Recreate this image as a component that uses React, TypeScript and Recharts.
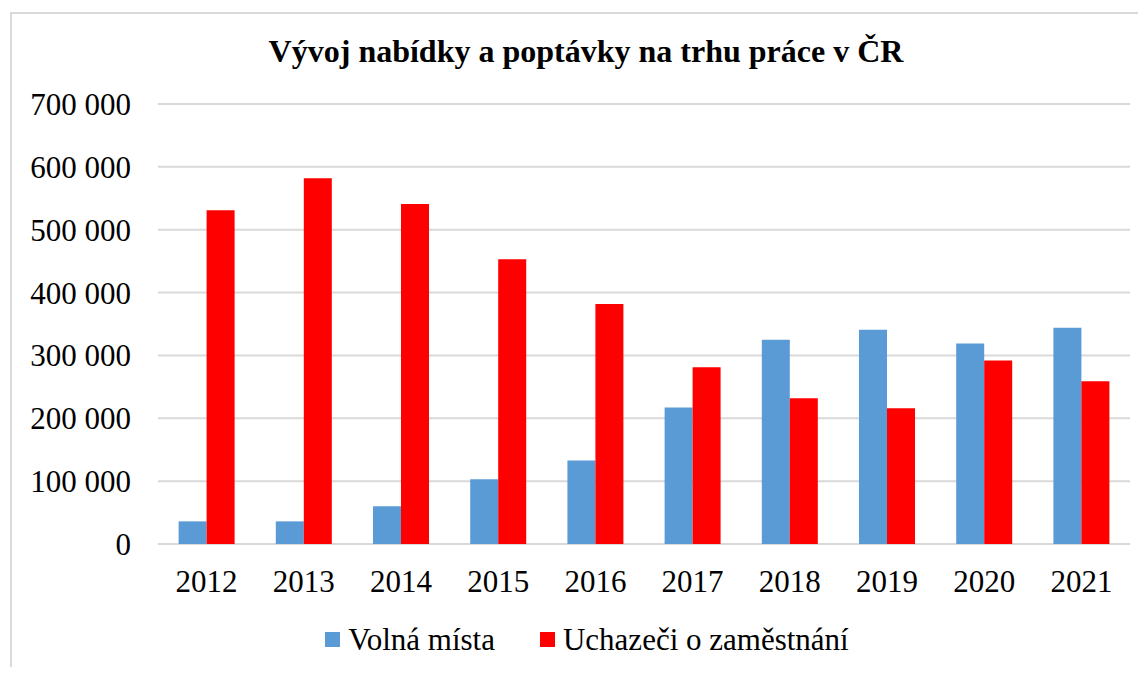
import React from 'react';
import { BarChart, Bar, XAxis, YAxis, CartesianGrid } from 'recharts';

const years = ['2012', '2013', '2014', '2015', '2016', '2017', '2018', '2019', '2020', '2021'];
const volnaMista = [36000, 36000, 60000, 103000, 133000, 217000, 325000, 341000, 319000, 344000];
const uchazeci = [531000, 582000, 541000, 453000, 382000, 281000, 232000, 216000, 292000, 259000];
const yTicks = [0, 100000, 200000, 300000, 400000, 500000, 600000, 700000];

const seriesNames = ['Volná místa', 'Uchazeči o zaměstnání'];
const colors = ['#5b9bd5', '#ff0000'];

const data = years.map((year, i) => ({
  year,
  volna: volnaMista[i],
  uchazeci: uchazeci[i],
}));

const font = '"Liberation Serif", "Times New Roman", serif';

const formatTick = (v: number) =>
  v === 0 ? '0' : `${Math.floor(v / 1000)} ${String(v % 1000).padStart(3, '0')}`;

export default function App() {
  return (
    <div style={{ position: 'relative', width: 1138, height: 659, overflow: 'hidden', fontFamily: font, background: '#fff' }}>
      <div style={{ position: 'absolute', left: 2, top: 4, width: 1200, height: 700, border: '2px solid #d9d9d9', boxSizing: 'border-box' }} />
      <div style={{ position: 'absolute', left: 0, top: 27, width: 1156, textAlign: 'center', fontSize: 32, lineHeight: '32px', fontWeight: 'bold', color: '#000' }}>
        Vývoj nabídky a poptávky na trhu práce v ČR
      </div>
      <div style={{ position: 'absolute', left: 0, top: 0 }}>
        <BarChart
          width={1138}
          height={659}
          data={data}
          margin={{ top: 96, right: 16, left: 0, bottom: 83 }}
          barCategoryGap="21.2%"
          barGap={0}
        >
          <CartesianGrid vertical={false} stroke="#d9d9d9" strokeWidth={2} />
          <XAxis
            dataKey="year"
            height={40}
            axisLine={false}
            tickLine={false}
            tickSize={0}
            tickMargin={26}
            tick={{ fill: '#000', fontSize: 31, fontFamily: font }}
          />
          <YAxis
            width={150}
            domain={[0, 700000]}
            ticks={yTicks}
            interval={0}
            axisLine={false}
            tickLine={false}
            tickSize={0}
            tickMargin={27}
            tickFormatter={formatTick}
            tick={{ fill: '#000', fontSize: 31, fontFamily: font }}
          />
          <Bar dataKey="volna" name={seriesNames[0]} fill={colors[0]} isAnimationActive={false} />
          <Bar dataKey="uchazeci" name={seriesNames[1]} fill={colors[1]} isAnimationActive={false} />
        </BarChart>
      </div>
      <div style={{ position: 'absolute', left: 0, top: 616, width: 1158, display: 'flex', justifyContent: 'center', alignItems: 'center', fontSize: 31, lineHeight: '31px', color: '#000' }}>
        {seriesNames.map((name, i) => (
          <div key={name} style={{ display: 'flex', alignItems: 'center', marginLeft: i === 0 ? 0 : 45 }}>
            <span style={{ display: 'inline-block', width: 15, height: 15, background: colors[i], marginRight: 8 }} />
            <span>{name}</span>
          </div>
        ))}
      </div>
    </div>
  );
}
